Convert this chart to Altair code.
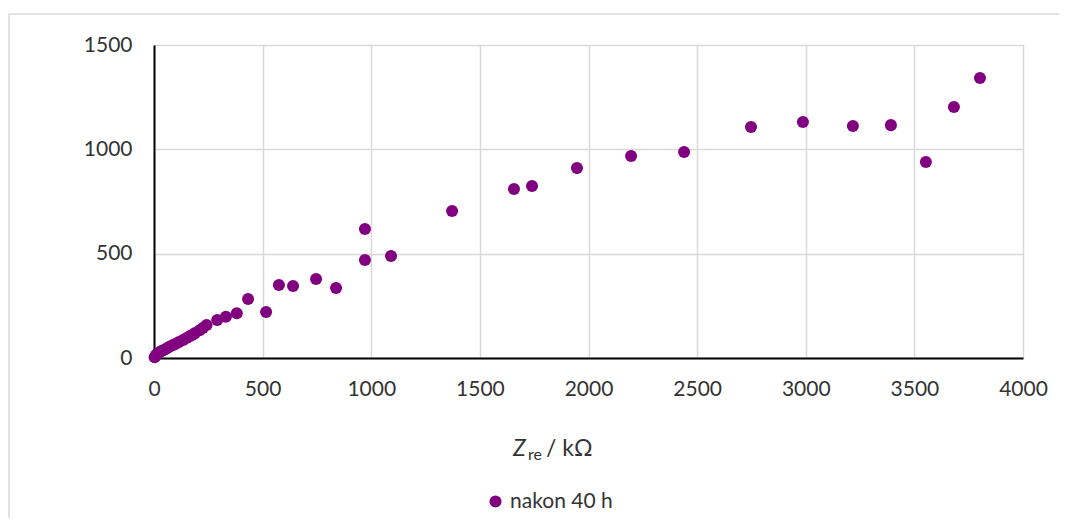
import altair as alt
import pandas as pd

zre = [3, 8, 15, 25, 35, 48, 60, 73, 88, 100, 115, 134, 150, 166, 180, 189, 210,
       225, 242, 291, 331, 381, 433, 516, 575, 640, 746, 838, 971, 971, 1091,
       1372, 1657, 1740, 1947, 2196, 2440, 2748, 2987, 3217, 3392, 3553, 3682, 3802]
zim = [4, 12, 20, 27, 33, 40, 47, 55, 62, 68, 77, 86, 96, 105, 113, 120, 133,
       144, 158, 182, 198, 214, 283, 220, 350, 345, 379, 335, 470, 618, 489,
       704, 810, 824, 910, 968, 987, 1107, 1131, 1112, 1116, 939, 1203, 1342]
series = ["nakon 40 h"] * len(zre)

x_ticks = [0, 500, 1000, 1500, 2000, 2500, 3000, 3500, 4000]
y_ticks = [0, 500, 1000, 1500]

PURPLE = "#800080"
FONT = "Lato"
TXT = "#333333"

df = pd.DataFrame({"zre": zre, "zim": zim, "series": series})

points = alt.Chart(df).mark_circle(size=145, opacity=1).encode(
    x=alt.X("zre:Q", scale=alt.Scale(domain=[0, 4000], nice=False),
            axis=alt.Axis(values=x_ticks, format="d", title=None, grid=True, ticks=False,
                          domainColor="black", domainWidth=2,
                          gridColor="#d9d9d9", gridWidth=1.5,
                          labelFont=FONT, labelFontSize=21, labelColor=TXT,
                          labelPadding=20, labelFlush=False)),
    y=alt.Y("zim:Q", scale=alt.Scale(domain=[0, 1500], nice=False),
            axis=alt.Axis(values=y_ticks, format="d", title=None, grid=True, ticks=False,
                          domainColor="black", domainWidth=2,
                          gridColor="#d9d9d9", gridWidth=1.5,
                          labelFont=FONT, labelFontSize=21, labelColor=TXT,
                          labelPadding=22)),
    color=alt.Color("series:N", scale=alt.Scale(range=[PURPLE]),
                    legend=alt.Legend(title=None, orient="none", legendX=331,
                                      legendY=446, symbolType="circle",
                                      symbolSize=145, symbolStrokeWidth=0,
                                      labelFont=FONT, labelFontSize=21,
                                      labelColor=TXT)),
)

frame = alt.Chart(pd.DataFrame({"a": [0]})).mark_rect(
    fill=None, stroke="#d9d9d9", strokeWidth=1.5
).encode(x=alt.value(-145), x2=alt.value(1100), y=alt.value(-31), y2=alt.value(700))

t_z = alt.Chart(pd.DataFrame({"t": ["Z"]})).mark_text(
    font=FONT, fontSize=23, fontStyle="italic", align="left", baseline="alphabetic",
    color=TXT
).encode(text="t:N", x=alt.value(359), y=alt.value(411))

t_re = alt.Chart(pd.DataFrame({"t": ["re"]})).mark_text(
    font=FONT, fontSize=16, align="left", baseline="alphabetic", color=TXT
).encode(text="t:N", x=alt.value(374), y=alt.value(415))

t_unit = alt.Chart(pd.DataFrame({"t": ["/ kΩ"]})).mark_text(
    font=FONT, fontSize=23, align="left", baseline="alphabetic", color=TXT
).encode(text="t:N", x=alt.value(392), y=alt.value(411))

chart = alt.layer(frame, points, t_z, t_re, t_unit).properties(
    width=869, height=313,
    autosize=alt.AutoSizeParams(type="none"),
    padding={"left": 146, "top": 37, "right": 36, "bottom": 160},
).configure_view(stroke="#d9d9d9", strokeWidth=1.5).configure(background="white")

chart.save("out.html", embed_options={"renderer": "svg", "actions": False})
